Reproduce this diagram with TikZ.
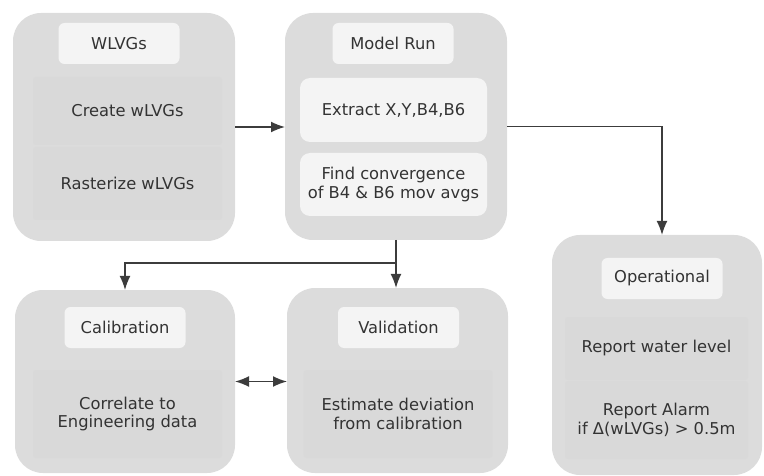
\documentclass[tikz,border=0pt]{standalone}
\usepackage{fontspec}
\setmainfont{DejaVu Sans}
\usetikzlibrary{arrows.meta}
\definecolor{stagegray}{HTML}{DCDCDC}
\definecolor{panelgray}{HTML}{D9D9D9}
\definecolor{headwhite}{HTML}{F4F4F4}
\definecolor{inkgray}{HTML}{333333}
\definecolor{linegray}{HTML}{3C3C3C}
\begin{document}
\begin{tikzpicture}[x=1pt, y=-1pt,
  every node/.style={inner sep=0pt, outer sep=0pt, align=center, text=inkgray,
    font=\fontsize{16.3}{18.5}\selectfont},
  stage/.style={fill=stagegray, rounded corners=28pt},
  head/.style={fill=headwhite, rounded corners=6pt, minimum width=121pt, minimum height=41pt},
  panel/.style={fill=panelgray, rounded corners=3pt},
  task/.style={fill=headwhite, rounded corners=10pt},
  link/.style={draw=linegray, line width=1.6pt, -{Latex[length=14pt,width=11pt]}}]
\useasboundingbox (0,0) rectangle (764,476);
% WLVGs
\node (wlvgs) at (124,127) [stage, minimum width=222pt, minimum height=228pt] {};
\node (wlvgsHead) at (119,43.5) [head] {WLVGs};
\node (create) at (127.5,111) [panel, minimum width=189pt, minimum height=68pt] {Create wLVGs};
\node (raster) at (127.5,183.5) [panel, minimum width=189pt, minimum height=73pt] {Rasterize wLVGs};
% Model Run
\node (model) at (396,126.5) [stage, minimum width=222pt, minimum height=227pt] {};
\node (modelHead) at (393,43.5) [head] {Model Run};
\node (extract) at (393.5,110) [task, minimum width=187pt, minimum height=64pt] {Extract X,Y,B4,B6};
\node (converge) at (393.5,184.5) [task, minimum width=187pt, minimum height=63pt] {Find convergence\\of B4 \& B6 mov avgs};
% Calibration
\node (calib) at (125,381.5) [stage, minimum width=220pt, minimum height=183pt] {};
\node (calibHead) at (125,327.5) [head] {Calibration};
\node (correl) at (127.5,414) [panel, minimum width=189pt, minimum height=88pt] {Correlate to\\Engineering data};
% Validation
\node (valid) at (397.5,380.5) [stage, minimum width=221pt, minimum height=185pt] {};
\node (validHead) at (398.5,327.5) [head] {Validation};
\node (estim) at (398,414) [panel, minimum width=189pt, minimum height=88pt] {Estimate deviation\\from calibration};
% Operational
\node (oper) at (657,355) [stage, minimum width=210pt, minimum height=240pt] {};
\node (operHead) at (662,278.5) [head] {Operational};
\node (water) at (656.5,348.5) [panel, minimum width=183pt, minimum height=63pt] {Report water level};
\node (alarm) at (656.5,420) [panel, minimum width=183pt, minimum height=78pt] {Report Alarm\\if Δ(wLVGs) > 0.5m};
% connectors
\coordinate (split) at (396,263);
\coordinate (operIn) at (662,235);
\draw [link] (wlvgs.east) -- (wlvgs.east -| model.west);
\draw [link] (model.east) -| (operIn);
\draw [draw=linegray, line width=1.6pt] (model.south) -- (split);
\draw [link] (split) -| (calib.north);
\draw [link] (split) -- (split |- valid.north);
\draw [link, {Latex[length=14pt,width=11pt]}-{Latex[length=14pt,width=11pt]}] (calib.east) -- (calib.east -| valid.west);
\end{tikzpicture}
\end{document}
